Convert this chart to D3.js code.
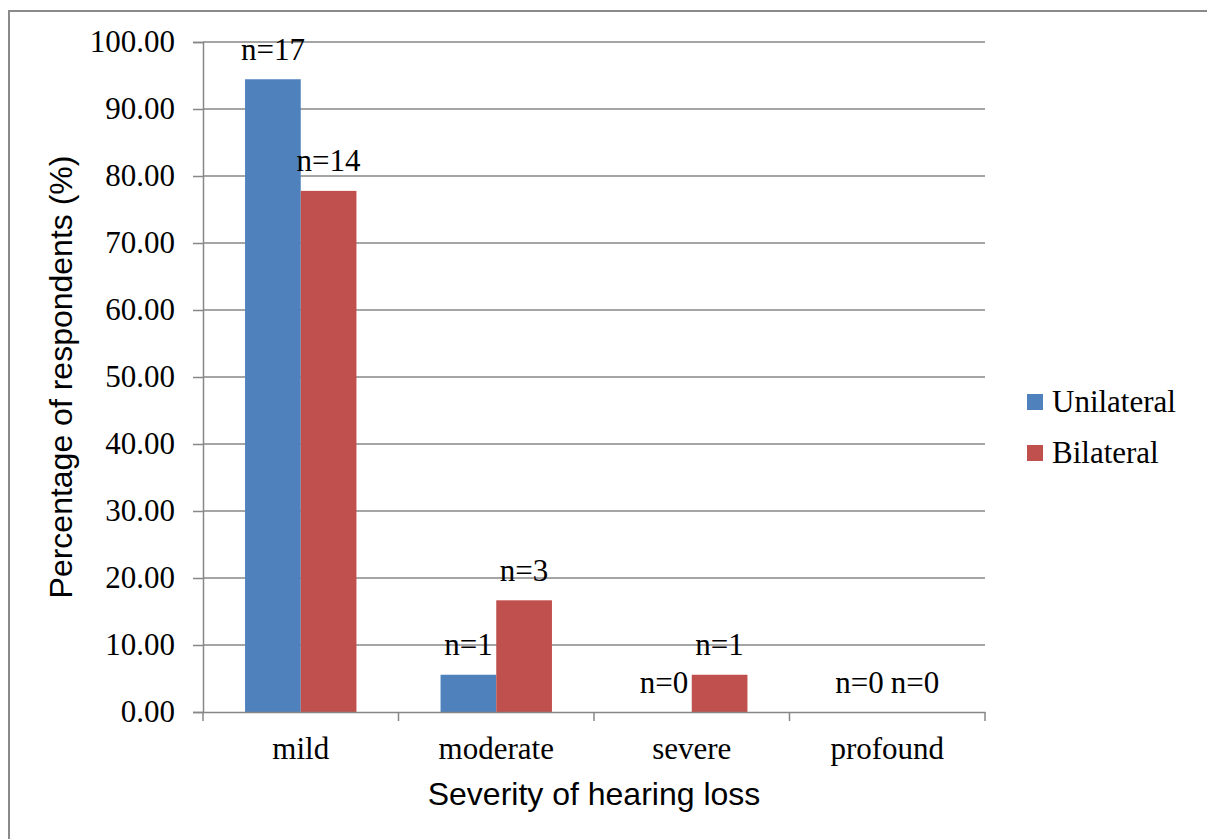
<!DOCTYPE html>
<html>
<head>
<meta charset="utf-8">
<script src="https://cdn.jsdelivr.net/npm/d3@7"></script>
<style>
  html, body { margin: 0; padding: 0; background: #fff; }
  svg { display: block; }
</style>
</head>
<body>
<svg id="chart" width="1207" height="839"></svg>
<script>
// Severity categories and the share of respondents in each group
const categories = ["mild", "moderate", "severe", "profound"];
const seriesNames = ["Unilateral", "Bilateral"];
const unilateral = [94.44, 5.56, 0, 0];
const bilateral = [77.78, 16.67, 5.56, 0];
const unilateralCounts = [17, 1, 0, 0];
const bilateralCounts = [14, 3, 1, 0];
const yTicks = [0, 10, 20, 30, 40, 50, 60, 70, 80, 90, 100];
const colors = ["#4F81BD", "#C0504D"];

const serif = "'Liberation Serif', 'Times New Roman', serif";
const sans = "'Liberation Sans', Arial, sans-serif";
const gridColor = "#878787";

const svg = d3.select("#chart");

// Outer chart frame
svg.append("rect")
  .attr("x", 9).attr("y", 11)
  .attr("width", 1220).attr("height", 860)
  .attr("fill", "none")
  .attr("stroke", "#8a8a8a")
  .attr("stroke-width", 2);

const plot = { left: 203, right: 985, top: 42, bottom: 712 };

const x = d3.scaleBand()
  .domain(categories)
  .range([plot.left, plot.right])
  .padding(0);

const xSub = d3.scaleBand()
  .domain(seriesNames)
  .range([0, x.bandwidth()])
  .paddingInner(0)
  .paddingOuter(0.755);

const y = d3.scaleLinear()
  .domain([0, 100])
  .range([plot.bottom, plot.top]);

// Horizontal gridlines with tick marks and labels on the left
const yAxis = d3.axisLeft(y)
  .tickValues(yTicks)
  .tickSize(10)
  .tickPadding(18)
  .tickFormat(d => d.toFixed(2));

const yG = svg.append("g")
  .attr("transform", `translate(${plot.left},0)`)
  .call(yAxis);
yG.select(".domain").attr("stroke", gridColor).attr("stroke-width", 1.5);
yG.selectAll(".tick line").attr("stroke", gridColor).attr("stroke-width", 1.5);
yG.selectAll(".tick text")
  .attr("font-family", serif)
  .attr("font-size", 31)
  .attr("fill", "#000");

svg.append("g")
  .selectAll("line")
  .data(yTicks.filter(d => d > 0))
  .join("line")
  .attr("x1", plot.left).attr("x2", plot.right)
  .attr("y1", d => y(d)).attr("y2", d => y(d))
  .attr("stroke", gridColor)
  .attr("stroke-width", 1.5);

// Bars
const rows = categories.map((c, i) => ({
  category: c,
  values: [
    { name: seriesNames[0], value: unilateral[i], count: unilateralCounts[i] },
    { name: seriesNames[1], value: bilateral[i], count: bilateralCounts[i] }
  ]
}));

const groups = svg.append("g")
  .selectAll("g")
  .data(rows)
  .join("g")
  .attr("transform", d => `translate(${x(d.category)},0)`);

groups.selectAll("rect")
  .data(d => d.values)
  .join("rect")
  .attr("x", d => xSub(d.name))
  .attr("y", d => y(d.value))
  .attr("width", xSub.bandwidth())
  .attr("height", d => y(0) - y(d.value))
  .attr("fill", (d, i) => colors[i]);

// Count labels above each bar
groups.selectAll("text")
  .data(d => d.values)
  .join("text")
  .attr("x", d => xSub(d.name) + xSub.bandwidth() / 2)
  .attr("y", d => y(d.value) - 19.5)
  .attr("text-anchor", "middle")
  .attr("font-family", serif)
  .attr("font-size", 31)
  .attr("fill", "#000")
  .text(d => `n=${d.count}`);

// Category axis along the bottom
const xAxis = d3.axisBottom(x).tickSize(0).tickPadding(0);
const xG = svg.append("g")
  .attr("transform", `translate(0,${plot.bottom})`)
  .call(xAxis);
xG.select(".domain").attr("stroke", gridColor).attr("stroke-width", 1.5);
xG.selectAll(".tick text")
  .attr("font-family", serif)
  .attr("font-size", 31)
  .attr("fill", "#000")
  .attr("dy", null)
  .attr("y", 47);

const boundaries = categories.map(c => x(c)).concat([x.range()[1]]);
svg.append("g")
  .selectAll("line")
  .data(boundaries)
  .join("line")
  .attr("x1", d => d).attr("x2", d => d)
  .attr("y1", plot.bottom).attr("y2", plot.bottom + 9)
  .attr("stroke", gridColor)
  .attr("stroke-width", 1.5);

// Axis titles
svg.append("text")
  .attr("x", (plot.left + plot.right) / 2)
  .attr("y", 805)
  .attr("text-anchor", "middle")
  .attr("font-family", sans)
  .attr("font-size", 32)
  .attr("fill", "#000")
  .text("Severity of hearing loss");

svg.append("text")
  .attr("transform", "translate(72,377) rotate(-90)")
  .attr("text-anchor", "middle")
  .attr("font-family", sans)
  .attr("font-size", 32)
  .attr("fill", "#000")
  .text("Percentage of respondents (%)");

// Legend
const legend = svg.append("g")
  .selectAll("g")
  .data(seriesNames)
  .join("g")
  .attr("transform", (d, i) => `translate(1027,${394 + i * 51})`);

legend.append("rect")
  .attr("width", 16).attr("height", 16)
  .attr("fill", (d, i) => colors[i]);

legend.append("text")
  .attr("x", 25)
  .attr("y", 18)
  .attr("font-family", serif)
  .attr("font-size", 31)
  .attr("fill", "#000")
  .text(d => d);
</script>
</body>
</html>
